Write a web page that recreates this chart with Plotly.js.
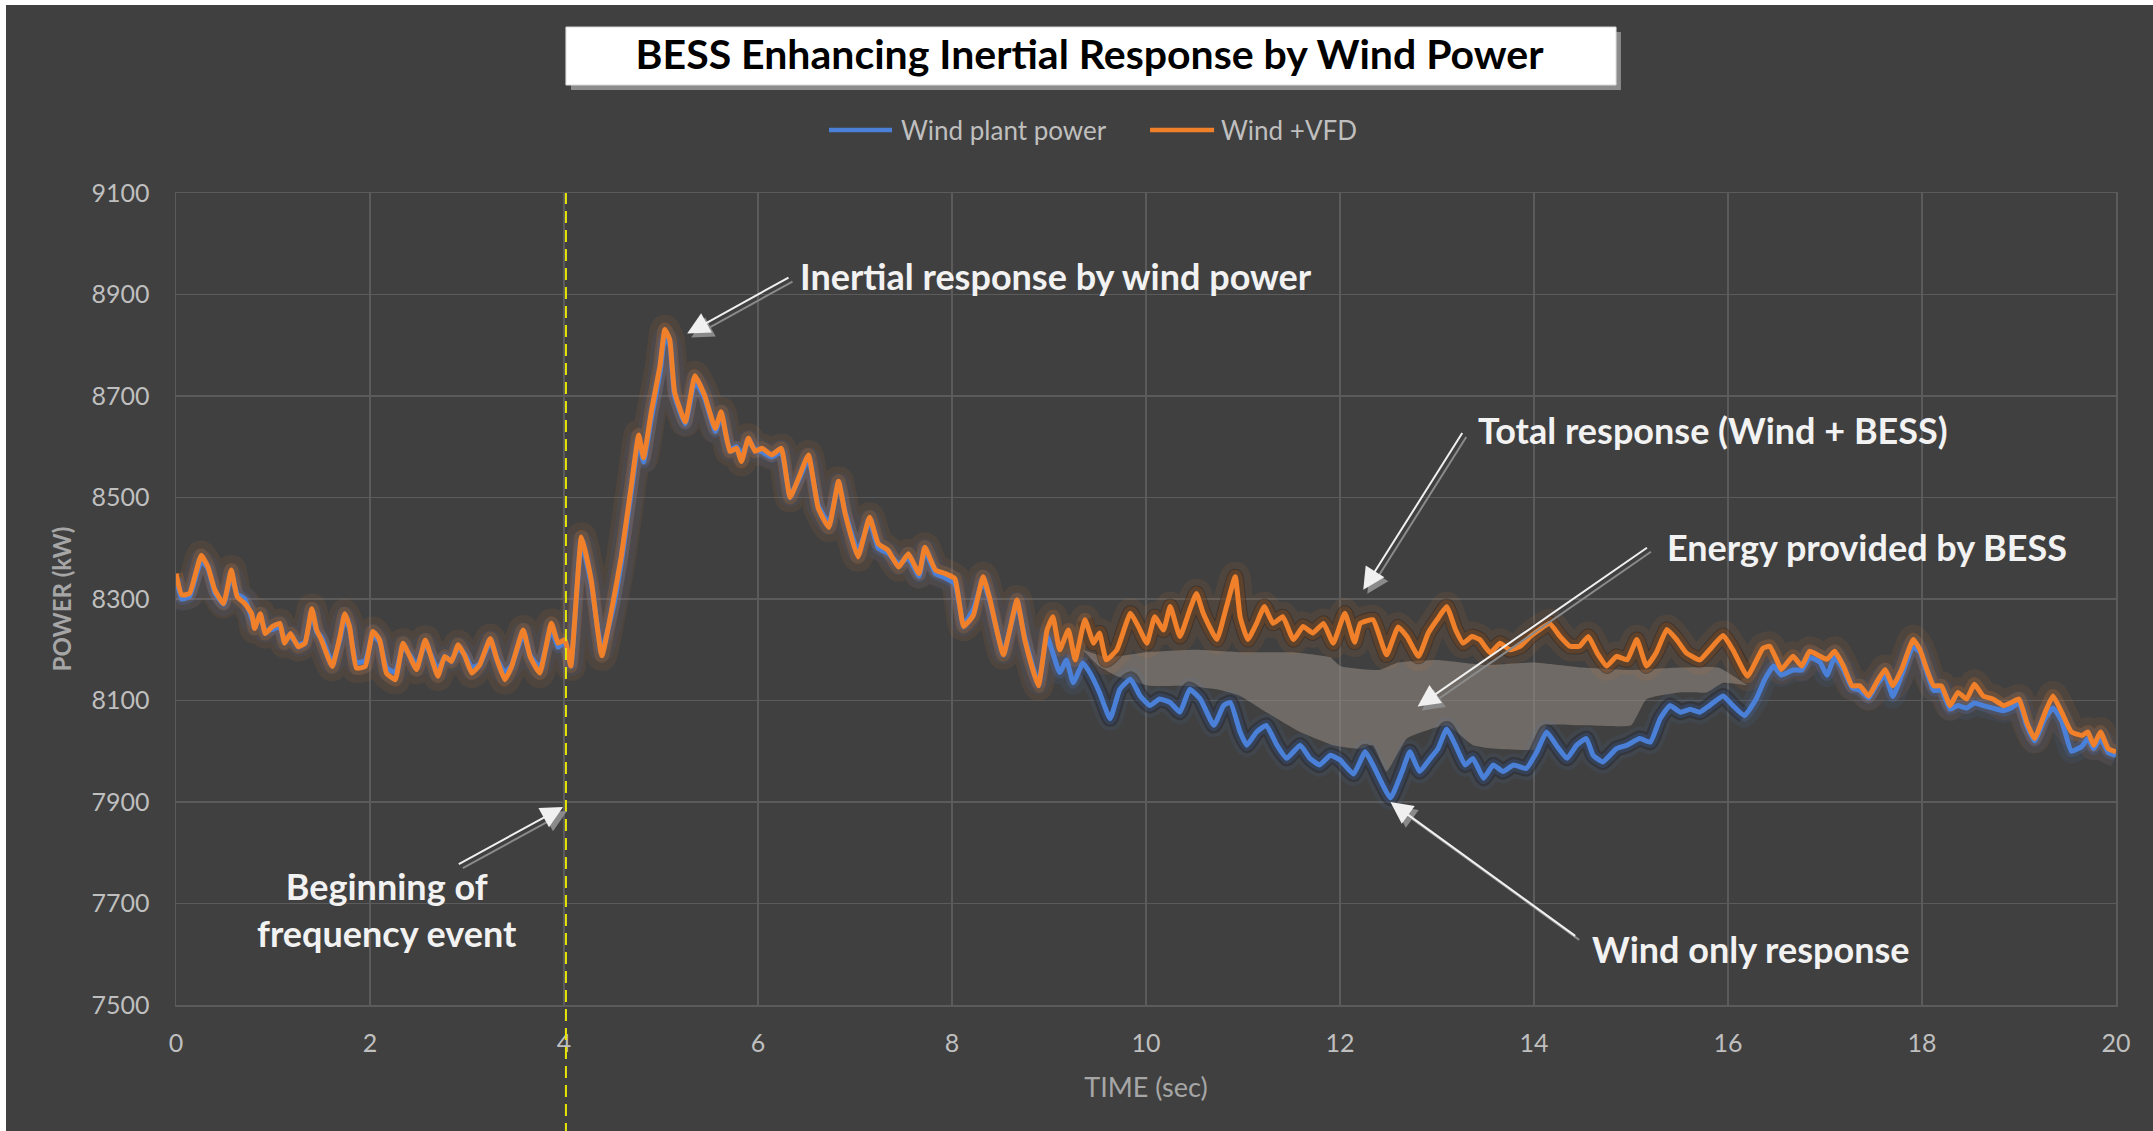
<!DOCTYPE html>
<html>
<head>
<meta charset="utf-8">
<script src="https://cdn.plot.ly/plotly-3.0.1.min.js"></script>
<style>
  html, body { margin: 0; padding: 0; background: #ffffff; overflow: hidden; }
  #chart { position: absolute; left: 6px; top: 5px; width: 2147px; height: 1126px; }
</style>
</head>
<body>
<div id="chart"></div>
<script>
// ---------------- DATA ----------------
const seriesNames = ['Wind plant power', 'Wind +VFD'];
const chartTitle = 'BESS Enhancing Inertial Response by Wind Power';
const xAxisTitle = 'TIME (sec)';
const yAxisTitle = 'POWER (kW)';
const xTicks = [0, 2, 4, 6, 8, 10, 12, 14, 16, 18, 20];
const yTicks = [7500, 7700, 7900, 8100, 8300, 8500, 8700, 8900, 9100];
const eventTime = 4.02;

// Wind + VFD (orange) – total response
const timeOrange = [0.00,0.06,0.14,0.26,0.33,0.40,0.49,0.57,0.63,0.71,0.78,0.81,0.87,0.92,0.99,1.07,1.12,1.18,1.26,1.33,1.40,1.45,1.50,1.61,1.69,1.74,1.79,1.86,1.95,2.03,2.10,2.17,2.26,2.34,2.41,2.48,2.57,2.64,2.70,2.77,2.84,2.91,2.98,3.05,3.13,3.24,3.31,3.39,3.46,3.58,3.65,3.75,3.87,3.94,4.01,4.07,4.18,4.28,4.39,4.51,4.59,4.70,4.77,4.82,4.90,4.99,5.04,5.09,5.14,5.25,5.35,5.45,5.56,5.62,5.71,5.78,5.83,5.90,5.97,6.04,6.14,6.24,6.33,6.42,6.52,6.62,6.73,6.83,6.90,7.03,7.15,7.24,7.34,7.45,7.55,7.66,7.72,7.83,7.93,8.03,8.12,8.22,8.32,8.39,8.53,8.67,8.75,8.89,8.98,9.04,9.11,9.20,9.27,9.37,9.46,9.52,9.59,9.70,9.84,9.92,10.01,10.09,10.18,10.25,10.35,10.45,10.52,10.59,10.73,10.83,10.92,10.97,11.05,11.14,11.22,11.31,11.41,11.52,11.62,11.72,11.83,11.93,12.05,12.15,12.21,12.34,12.48,12.60,12.69,12.81,12.91,13.00,13.10,13.19,13.27,13.36,13.44,13.55,13.65,13.75,13.86,13.96,14.06,14.16,14.27,14.37,14.47,14.56,14.65,14.75,14.85,14.96,15.06,15.16,15.26,15.37,15.47,15.57,15.71,15.81,15.95,16.05,16.20,16.36,16.43,16.50,16.55,16.67,16.76,16.84,16.95,17.02,17.10,17.19,17.28,17.36,17.45,17.53,17.62,17.70,17.79,17.91,17.98,18.05,18.12,18.20,18.29,18.37,18.46,18.54,18.63,18.73,18.84,18.92,19.00,19.08,19.16,19.27,19.35,19.44,19.54,19.65,19.71,19.77,19.84,19.92,20.00];
const powerOrange = [8350,8308,8311,8386,8363,8318,8291,8357,8305,8291,8271,8242,8271,8232,8245,8252,8213,8232,8206,8213,8281,8239,8219,8167,8226,8271,8245,8164,8167,8236,8219,8154,8141,8213,8187,8161,8219,8180,8148,8187,8177,8210,8187,8154,8170,8222,8180,8141,8167,8239,8187,8154,8252,8213,8220,8168,8422,8338,8188,8298,8383,8532,8623,8578,8669,8760,8831,8811,8708,8649,8740,8701,8636,8669,8591,8597,8571,8617,8591,8597,8584,8597,8500,8539,8584,8480,8441,8532,8467,8383,8461,8409,8396,8363,8389,8350,8402,8357,8350,8340,8246,8268,8344,8300,8190,8298,8220,8129,8239,8265,8200,8239,8180,8259,8213,8233,8180,8200,8272,8246,8213,8265,8239,8285,8226,8278,8311,8272,8220,8285,8344,8265,8220,8252,8285,8252,8265,8220,8246,8233,8252,8213,8272,8215,8252,8259,8190,8245,8226,8187,8233,8259,8285,8240,8213,8226,8220,8194,8213,8200,8207,8226,8240,8252,8226,8207,8207,8226,8194,8168,8187,8180,8220,8168,8194,8240,8220,8194,8180,8200,8228,8200,8148,8203,8207,8181,8161,8187,8168,8197,8187,8181,8197,8168,8129,8129,8109,8135,8161,8129,8161,8220,8200,8161,8129,8129,8090,8116,8103,8132,8109,8103,8090,8096,8103,8057,8025,8077,8109,8077,8038,8031,8038,8012,8038,8005,7999];

// Wind plant power (blue) – wind only response
const timeBlue = [0.00,0.06,0.14,0.26,0.33,0.40,0.49,0.57,0.63,0.71,0.78,0.81,0.87,0.92,0.99,1.07,1.12,1.18,1.26,1.33,1.40,1.45,1.50,1.61,1.69,1.74,1.79,1.86,1.95,2.03,2.10,2.17,2.26,2.34,2.41,2.48,2.57,2.64,2.70,2.77,2.84,2.91,2.98,3.05,3.13,3.24,3.31,3.39,3.46,3.58,3.65,3.75,3.87,3.94,4.01,4.07,4.18,4.28,4.39,4.51,4.59,4.70,4.77,4.82,4.90,4.99,5.04,5.09,5.14,5.25,5.35,5.45,5.56,5.62,5.71,5.78,5.83,5.90,5.97,6.04,6.14,6.24,6.33,6.42,6.52,6.62,6.73,6.83,6.90,7.03,7.15,7.24,7.34,7.45,7.55,7.66,7.72,7.83,7.93,8.03,8.12,8.22,8.32,8.39,8.53,8.67,8.75,8.89,8.98,9.11,9.18,9.25,9.35,9.42,9.52,9.63,9.73,9.84,9.94,10.04,10.14,10.25,10.35,10.45,10.56,10.70,10.80,10.87,10.97,11.04,11.14,11.24,11.35,11.45,11.59,11.69,11.79,11.90,12.00,12.14,12.26,12.34,12.52,12.64,12.72,12.82,12.93,13.01,13.10,13.19,13.29,13.37,13.48,13.58,13.68,13.79,13.92,14.03,14.13,14.23,14.34,14.44,14.54,14.61,14.71,14.85,14.96,15.09,15.20,15.30,15.40,15.51,15.61,15.71,15.81,15.95,16.05,16.17,16.29,16.38,16.47,16.55,16.67,16.76,16.84,16.95,17.02,17.10,17.19,17.28,17.36,17.45,17.53,17.62,17.70,17.79,17.91,17.98,18.05,18.12,18.20,18.29,18.37,18.46,18.54,18.63,18.73,18.84,18.92,19.00,19.08,19.16,19.27,19.35,19.44,19.54,19.65,19.71,19.77,19.84,19.92,20.00];
const powerBlue = [8340,8300,8305,8375,8360,8312,8290,8345,8310,8300,8262,8250,8262,8238,8240,8245,8220,8226,8210,8215,8270,8235,8225,8175,8220,8262,8240,8175,8178,8228,8215,8165,8155,8205,8190,8170,8210,8185,8160,8185,8180,8202,8190,8165,8172,8215,8182,8155,8170,8230,8190,8165,8240,8205,8215,8172,8410,8330,8200,8285,8370,8520,8610,8570,8655,8745,8815,8800,8700,8645,8728,8695,8630,8660,8595,8600,8585,8610,8595,8590,8580,8590,8505,8535,8575,8485,8450,8525,8470,8395,8452,8400,8390,8370,8380,8345,8395,8350,8342,8330,8250,8280,8335,8295,8195,8290,8225,8135,8226,8155,8180,8135,8174,8155,8116,8064,8122,8142,8109,8090,8103,8096,8077,8122,8103,8051,8090,8096,8038,8012,8038,8051,8012,7986,8012,7986,7973,7992,7983,7955,7999,7973,7908,7960,7999,7960,7986,8005,8044,8012,7973,7986,7947,7973,7960,7973,7966,7999,8038,8012,7986,8012,8025,7992,7979,8005,8012,8025,8018,8064,8090,8077,8083,8077,8090,8109,8090,8070,8103,8142,8168,8150,8160,8160,8185,8175,8150,8185,8160,8125,8120,8105,8130,8150,8108,8150,8205,8195,8155,8120,8120,8083,8090,8085,8095,8090,8085,8080,8085,8095,8050,8020,8065,8085,8060,8000,8010,8025,8005,8025,7998,7992];

// Energy provided by BESS – shaded band boundaries
const bessTimeUpper = [9.35,9.60,10.00,10.50,11.00,11.50,11.90,12.00,12.40,12.60,13.00,13.50,14.00,14.50,15.00,15.50,15.90,16.20];
const bessUpper     = [8200,8185,8195,8200,8195,8195,8185,8168,8160,8175,8180,8170,8175,8165,8160,8165,8165,8130];
const bessTimeLower = [9.35,9.50,9.70,10.04,10.40,10.73,10.97,11.24,11.59,11.93,12.20,12.34,12.48,12.69,13.10,13.37,13.60,14.06,14.13,14.50,15.00,15.16,15.50,15.78,15.95,16.20];
const bessLower     = [8200,8170,8148,8129,8129,8122,8109,8077,8038,8012,8005,8012,7960,8025,8051,8012,8005,8005,8051,8051,8051,8103,8116,8116,8135,8130];

// Callouts: label, text anchor (time, kW), arrow tail, arrow head
const calloutText  = ['Inertial response by wind power', 'Total response (Wind + BESS)', 'Energy provided by BESS', 'Wind only response', 'Beginning of<br>frequency event'];
const calloutTextX = [6.41, 13.40, 15.35, 14.58, 2.18];
const calloutTextY = [8937, 8633, 8403, 7610, 7688];
const calloutAlign = ['left', 'left', 'left', 'left', 'center'];
const arrowTailX = [6.33, 13.27, 15.18, 14.44, 2.90];
const arrowTailY = [8935, 8630, 8403, 7634, 7776];
const arrowHeadX = [5.27, 12.24, 12.80, 12.52, 3.99];
const arrowHeadY = [8823, 8318, 8088, 7900, 7890];

// ---------------- STYLE ----------------
const ORANGE = '#f0802a';
const BLUE = '#4a80d8';
const BG = '#404040';
const GRID = '#5b5b5b';
const TICK = '#bfbfbf';

const inRange = (t, v, a, b) => {
  const xs = [], ys = [];
  t.forEach((ti, i) => { if (ti >= a && ti <= b) { xs.push(ti); ys.push(v[i]); } });
  return {x: xs, y: ys};
};
const bandO = inRange(timeOrange, powerOrange, bessTimeUpper[0], bessTimeUpper[bessTimeUpper.length - 1]);
const bandB = inRange(timeBlue, powerBlue, bessTimeLower[0], bessTimeLower[bessTimeLower.length - 1]);

const noHover = {hoverinfo: 'skip', showlegend: false, mode: 'lines', type: 'scatter'};
const SM = {shape: 'spline', smoothing: 0.4};

const traces = [
  Object.assign({x: bessTimeLower, y: bessLower, line: Object.assign({width: 0, color: 'rgba(0,0,0,0)'}, SM)}, noHover),
  Object.assign({x: bessTimeUpper, y: bessUpper, line: Object.assign({width: 0, color: 'rgba(0,0,0,0)'}, SM),
    fill: 'tonexty', fillcolor: 'rgba(150,140,132,0.55)'}, noHover),
  Object.assign({x: bandO.x, y: bandO.y, line: Object.assign({width: 16, color: 'rgba(30,26,24,0.45)'}, SM)}, noHover),
  Object.assign({x: bandB.x, y: bandB.y, line: Object.assign({width: 16, color: 'rgba(30,26,24,0.45)'}, SM)}, noHover),
  Object.assign({x: timeOrange, y: powerOrange, line: Object.assign({width: 30, color: 'rgba(240,128,42,0.08)'}, SM)}, noHover),
  Object.assign({x: timeOrange, y: powerOrange, line: Object.assign({width: 14, color: 'rgba(240,128,42,0.18)'}, SM)}, noHover),
  Object.assign({x: timeBlue, y: powerBlue, line: Object.assign({width: 24, color: 'rgba(74,128,216,0.08)'}, SM)}, noHover),
  Object.assign({x: timeBlue, y: powerBlue, line: Object.assign({width: 12, color: 'rgba(74,128,216,0.18)'}, SM)}, noHover),
  {x: timeBlue, y: powerBlue, type: 'scatter', mode: 'lines', name: seriesNames[0], showlegend: false,
   line: Object.assign({width: 5, color: BLUE}, SM)},
  {x: timeOrange, y: powerOrange, type: 'scatter', mode: 'lines', name: seriesNames[1], showlegend: false,
   line: Object.assign({width: 5, color: ORANGE}, SM)}
];

const annotations = [];
calloutText.forEach((txt, i) => {
  annotations.push({x: arrowHeadX[i], y: arrowHeadY[i], ax: arrowTailX[i], ay: arrowTailY[i],
    xref: 'x', yref: 'y', axref: 'x', ayref: 'y', text: '', showarrow: true,
    arrowhead: 2, arrowsize: 2.2, arrowwidth: 2, arrowcolor: '#8a8a8a', xshift: 4, yshift: -4});
  annotations.push({x: arrowHeadX[i], y: arrowHeadY[i], ax: arrowTailX[i], ay: arrowTailY[i],
    xref: 'x', yref: 'y', axref: 'x', ayref: 'y', text: '', showarrow: true,
    arrowhead: 2, arrowsize: 2.2, arrowwidth: 2, arrowcolor: '#f0f0f0'});
  annotations.push({x: calloutTextX[i], y: calloutTextY[i], xref: 'x', yref: 'y',
    text: txt, showarrow: false, xanchor: calloutAlign[i], yanchor: 'middle', align: 'center',
    font: {family: 'Lato, sans-serif', size: 36, weight: 'bold', color: '#f2f2f2'}});
});

// legend (drawn as key lines + labels above the plot)
const legendY = 1.0776;
const legendKeyX = [[0.3366, 0.3691], [0.5021, 0.5351]];
const legendTextX = [0.3727, 0.5375];
const legendColors = [BLUE, ORANGE];
const legendShapes = legendKeyX.map((k, i) => ({type: 'line', xref: 'paper', yref: 'paper',
  x0: k[0], x1: k[1], y0: legendY, y1: legendY, line: {color: legendColors[i], width: 4.5}, layer: 'above'}));
seriesNames.forEach((n, i) => annotations.push({xref: 'paper', yref: 'paper', x: legendTextX[i], y: legendY,
  text: n, showarrow: false, xanchor: 'left', yanchor: 'middle',
  font: {family: 'Lato, sans-serif', size: 26, color: TICK}}));

const layout = {
  width: 2147, height: 1126,
  paper_bgcolor: BG, plot_bgcolor: BG,
  margin: {l: 170, r: 37, t: 188, b: 126},
  title: {text: chartTitle, x: 0.5047, y: 0.9556, xanchor: 'center', yanchor: 'middle',
    xref: 'container', yref: 'container',
    font: {family: 'Lato, sans-serif', size: 41, weight: 'bold', color: '#000000'}},
  showlegend: false,
  xaxis: {range: [0, 20], tickvals: xTicks, ticktext: xTicks.map(String),
    showgrid: true, gridcolor: GRID, gridwidth: 1.5, zeroline: false,
    showline: true, mirror: true, linecolor: GRID, linewidth: 1.5,
    ticks: '', ticklabelstandoff: 15, automargin: false, fixedrange: true,
    tickfont: {family: 'Liberation Sans Narrow, Lato, sans-serif', size: 25, color: TICK},
    title: {text: xAxisTitle, standoff: 22,
      font: {family: 'Liberation Sans Narrow, Lato, sans-serif', size: 27, color: '#a6a6a6'}}},
  yaxis: {range: [7500, 9100], tickvals: yTicks, ticktext: yTicks.map(String),
    showgrid: true, gridcolor: GRID, gridwidth: 1.5, zeroline: false,
    showline: true, mirror: true, linecolor: GRID, linewidth: 1.5,
    ticks: '', ticklabelstandoff: 20, automargin: false, fixedrange: true,
    tickfont: {family: 'Liberation Sans Narrow, Lato, sans-serif', size: 25, color: TICK},
    title: {text: yAxisTitle, standoff: 13,
      font: {family: 'Lato, sans-serif', size: 24, weight: 'bold', color: '#a6a6a6'}}},
  shapes: [
    {type: 'rect', xref: 'paper', yref: 'paper', x0: 0.2036, x1: 0.7448, y0: 1.1268, y1: 1.1983,
     line: {width: 0}, fillcolor: '#8c8c8c', layer: 'above'},
    {type: 'rect', xref: 'paper', yref: 'paper', x0: 0.2010, x1: 0.7423, y0: 1.1330, y1: 1.2044,
     line: {width: 1, color: '#d9d9d9'}, fillcolor: '#ffffff', layer: 'above'},
    {type: 'line', xref: 'x', yref: 'paper', x0: eventTime, x1: eventTime, y0: -0.16, y1: 1.0,
     line: {color: '#e6e600', width: 2, dash: '12px,7px'}, layer: 'above'}
  ].concat(legendShapes),
  annotations: annotations
};

Plotly.newPlot('chart', traces, layout, {displayModeBar: false, staticPlot: true});
</script>
</body>
</html>
